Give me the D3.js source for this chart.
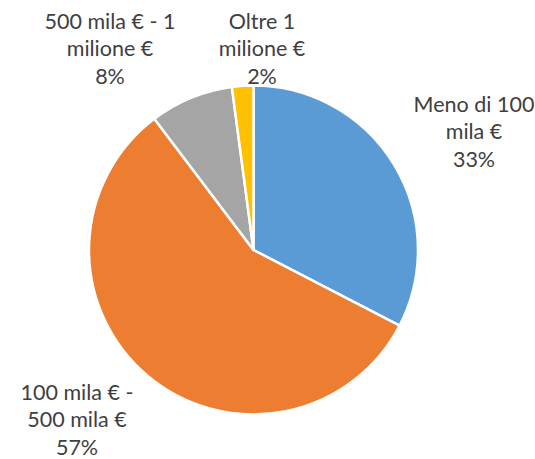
<!DOCTYPE html>
<html>
<head>
<meta charset="utf-8">
<script src="https://cdn.jsdelivr.net/npm/d3@7"></script>
<style>
  body { margin: 0; background: #fff; }
</style>
</head>
<body>
<div id="chart"></div>
<script>
// fasce di fatturato
var categories = ['Meno di 100 mila €', '100 mila € - 500 mila €', '500 mila € - 1 milione €', 'Oltre 1 milione €'];
var values = [32.6, 57.1, 8.2, 2.1];
var colors = ['#5B9BD5', '#ED7D31', '#A5A5A5', '#FFC000'];
// label lines as they wrap in the original
var labelLines = [
    ['Meno di 100', 'mila €'],
    ['100 mila € -', '500 mila €'],
    ['500 mila € - 1', 'milione €'],
    ['Oltre 1', 'milione €']
];

var width = 535, height = 459;
var cx = 253.5, cy = 250, radius = 164.5;
// label centres (layout only)
var labelPos = [[474, 104], [77, 392], [110, 21], [262, 21]];

var svg = d3.select('#chart').append('svg')
    .attr('width', width)
    .attr('height', height)
    .style('font-family', 'Lato, "Open Sans", sans-serif');

var pie = d3.pie().sort(null).value(d => d);
var arc = d3.arc().innerRadius(0).outerRadius(radius);
var total = d3.sum(values);

var g = svg.append('g')
    .attr('transform', 'translate(' + cx + ',' + cy + ')');

g.selectAll('path')
    .data(pie(values))
    .enter().append('path')
        .attr('d', arc)
        .attr('fill', (d, i) => colors[i])
        .attr('stroke', '#fff')
        .attr('stroke-width', 2.5)
        .attr('stroke-linejoin', 'round');

var labels = svg.selectAll('.lbl')
    .data(values)
    .enter().append('text')
        .attr('class', 'lbl')
        .attr('text-anchor', 'middle')
        .attr('fill', '#404040')
        .style('font-size', '21.5px');

labels.each(function(d, i) {
    var t = d3.select(this);
    var lines = labelLines[i].concat([Math.round(d / total * 100) + '%']);
    lines.forEach(function(s, j) {
        t.append('tspan')
            .attr('x', labelPos[i][0])
            .attr('y', labelPos[i][1] + j * 27.5)
            .attr('dy', '0.35em')
            .text(s);
    });
});
</script>
</body>
</html>
